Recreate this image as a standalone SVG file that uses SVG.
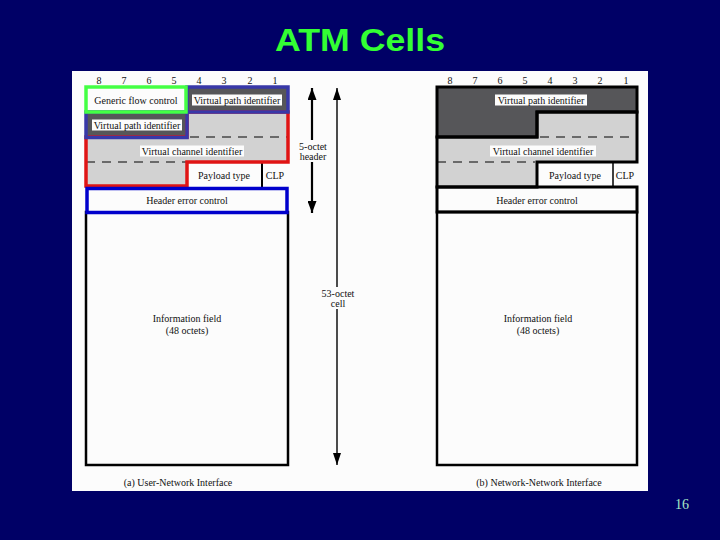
<svg xmlns="http://www.w3.org/2000/svg" width="720" height="540" viewBox="0 0 720 540">
<style>
.t{font-family:"Liberation Serif","Times New Roman",serif;font-size:10px;fill:#111;text-anchor:middle}
.dk{fill:#565659}
.lt{fill:#d2d2d2}
.wh{fill:#fcfcfc}
.lb{fill:#fcfcfc}
.dash{stroke:#6a6a6a;stroke-width:2;stroke-dasharray:9 7;fill:none}
.blk{fill:none;stroke:#000;stroke-width:3}
</style>
<defs>
<marker id="ah" viewBox="0 0 12 9" refX="12" refY="4.5" markerWidth="12" markerHeight="9" orient="auto-start-reverse" markerUnits="userSpaceOnUse">
<path d="M0,0 L12,4.5 L0,9 z" fill="#000"/>
</marker>
<marker id="ah2" viewBox="0 0 12 8" refX="12" refY="4" markerWidth="12" markerHeight="8" orient="auto-start-reverse" markerUnits="userSpaceOnUse">
<path d="M0,0 L12,4 L0,8 z" fill="#000"/>
</marker>
</defs>
<rect x="0" y="0" width="720" height="540" fill="#000066"/>
<text x="360" y="51" font-family="Liberation Sans,Arial,sans-serif" font-weight="bold" font-size="31" fill="#33ff33" text-anchor="middle" textLength="170" lengthAdjust="spacingAndGlyphs">ATM Cells</text>
<rect x="72" y="71" width="576" height="420" fill="#fcfcfc"/>

<g id="uni">
<g class="t">
<text x="99" y="84">8</text><text x="124" y="84">7</text><text x="149" y="84">6</text><text x="174" y="84">5</text>
<text x="199" y="84">4</text><text x="224" y="84">3</text><text x="250" y="84">2</text><text x="275" y="84">1</text>
</g>
<rect class="wh" x="86" y="87" width="101" height="25"/>
<rect class="dk" x="187" y="87" width="101" height="25"/>
<rect class="dk" x="86" y="112" width="101" height="25"/>
<rect class="lt" x="187" y="112" width="101" height="25"/>
<rect class="lt" x="86" y="137" width="202" height="25"/>
<rect class="lt" x="86" y="162" width="101" height="25"/>
<rect class="wh" x="187" y="162" width="101" height="25"/>
<line x1="262" y1="162" x2="262" y2="187" stroke="#000" stroke-width="2"/>
<rect x="86" y="212" width="202" height="253" fill="#fcfcfc" stroke="#000" stroke-width="2.5"/>
<line class="dash" x1="190" y1="137" x2="288" y2="137"/>
<line class="dash" x1="86" y1="162" x2="186" y2="162"/>
<polygon points="187,112 288,112 288,162 187,162 187,186 86,186 86,137 187,137" fill="none" stroke="#e01414" stroke-width="3.5"/>
<rect x="187" y="87" width="101" height="25" fill="none" stroke="#3838a8" stroke-width="3.5"/>
<rect x="86" y="112" width="101" height="25.5" fill="none" stroke="#3838a8" stroke-width="3.5"/>
<rect x="86" y="87" width="100" height="25" fill="none" stroke="#44ff44" stroke-width="3.5"/>
<rect x="87" y="188.5" width="200" height="24" fill="#fcfcfc" stroke="#0000cc" stroke-width="3.5"/>
<rect class="lb" x="192" y="94.5" width="90" height="11"/>
<rect class="lb" x="92" y="119.5" width="90" height="11"/>
<rect class="lb" x="140" y="145.5" width="104" height="11"/>
<g class="t">
<text x="136" y="104">Generic flow control</text>
<text x="237" y="103.5">Virtual path identifier</text>
<text x="137" y="128.5">Virtual path identifier</text>
<text x="192" y="154.5">Virtual channel identifier</text>
<text x="224" y="179">Payload type</text>
<text x="275" y="179">CLP</text>
<text x="187" y="204">Header error control</text>
<text x="187" y="322">Information field</text>
<text x="187" y="334">(48 octets)</text>
<text x="178" y="486">(a) User-Network Interface</text>
</g>
</g>

<g id="nni">
<g class="t">
<text x="450" y="84">8</text><text x="475" y="84">7</text><text x="500" y="84">6</text><text x="525" y="84">5</text>
<text x="550" y="84">4</text><text x="575" y="84">3</text><text x="600" y="84">2</text><text x="626" y="84">1</text>
</g>
<rect class="dk" x="437" y="87" width="200" height="25"/>
<rect class="dk" x="437" y="112" width="100" height="25"/>
<rect class="lt" x="537" y="112" width="100" height="25"/>
<rect class="lt" x="437" y="137" width="200" height="25"/>
<rect class="lt" x="437" y="162" width="100" height="25"/>
<rect class="wh" x="537" y="162" width="100" height="25"/>
<rect class="wh" x="437" y="187" width="200" height="25"/>
<line x1="613" y1="162" x2="613" y2="187" stroke="#000" stroke-width="1.5"/>
<rect x="437" y="212" width="200" height="253" fill="#fcfcfc" stroke="#000" stroke-width="2.5"/>
<line class="dash" x1="540" y1="137" x2="637" y2="137"/>
<line class="dash" x1="437" y1="162" x2="535" y2="162"/>
<polygon class="blk" points="437,87 637,87 637,112 537,112 537,137 437,137"/>
<polygon class="blk" points="537,112 637,112 637,162 537,162 537,187 437,187 437,137 537,137"/>
<rect class="blk" x="437" y="187" width="200" height="25"/>
<rect class="lb" x="495" y="94.5" width="92" height="11"/>
<rect class="lb" x="490" y="145.5" width="106" height="11"/>
<g class="t">
<text x="541" y="103.5">Virtual path identifier</text>
<text x="543" y="154.5">Virtual channel identifier</text>
<text x="575" y="179">Payload type</text>
<text x="625" y="179">CLP</text>
<text x="537" y="204">Header error control</text>
<text x="538" y="322">Information field</text>
<text x="538" y="334">(48 octets)</text>
<text x="539" y="486">(b) Network-Network Interface</text>
</g>
</g>

<g id="connectors">
<line x1="312" y1="88" x2="312" y2="213" stroke="#000" stroke-width="2.2" marker-start="url(#ah)" marker-end="url(#ah)"/>
<line x1="337" y1="88" x2="337" y2="465" stroke="#000" stroke-width="1.4" marker-start="url(#ah2)" marker-end="url(#ah2)"/>
</g>
<g id="labels">
<rect x="296" y="140" width="33" height="22" fill="#fcfcfc"/>
<rect x="320" y="287" width="36" height="22" fill="#fcfcfc"/>
<g class="t">
<text x="313" y="150">5-octet</text>
<text x="313" y="160">header</text>
<text x="338" y="297">53-octet</text>
<text x="338" y="307">cell</text>
</g>
</g>
<text x="682" y="509" font-family="Liberation Serif,Times New Roman,serif" font-size="14" fill="#a8e8c8" text-anchor="middle">16</text>
</svg>
